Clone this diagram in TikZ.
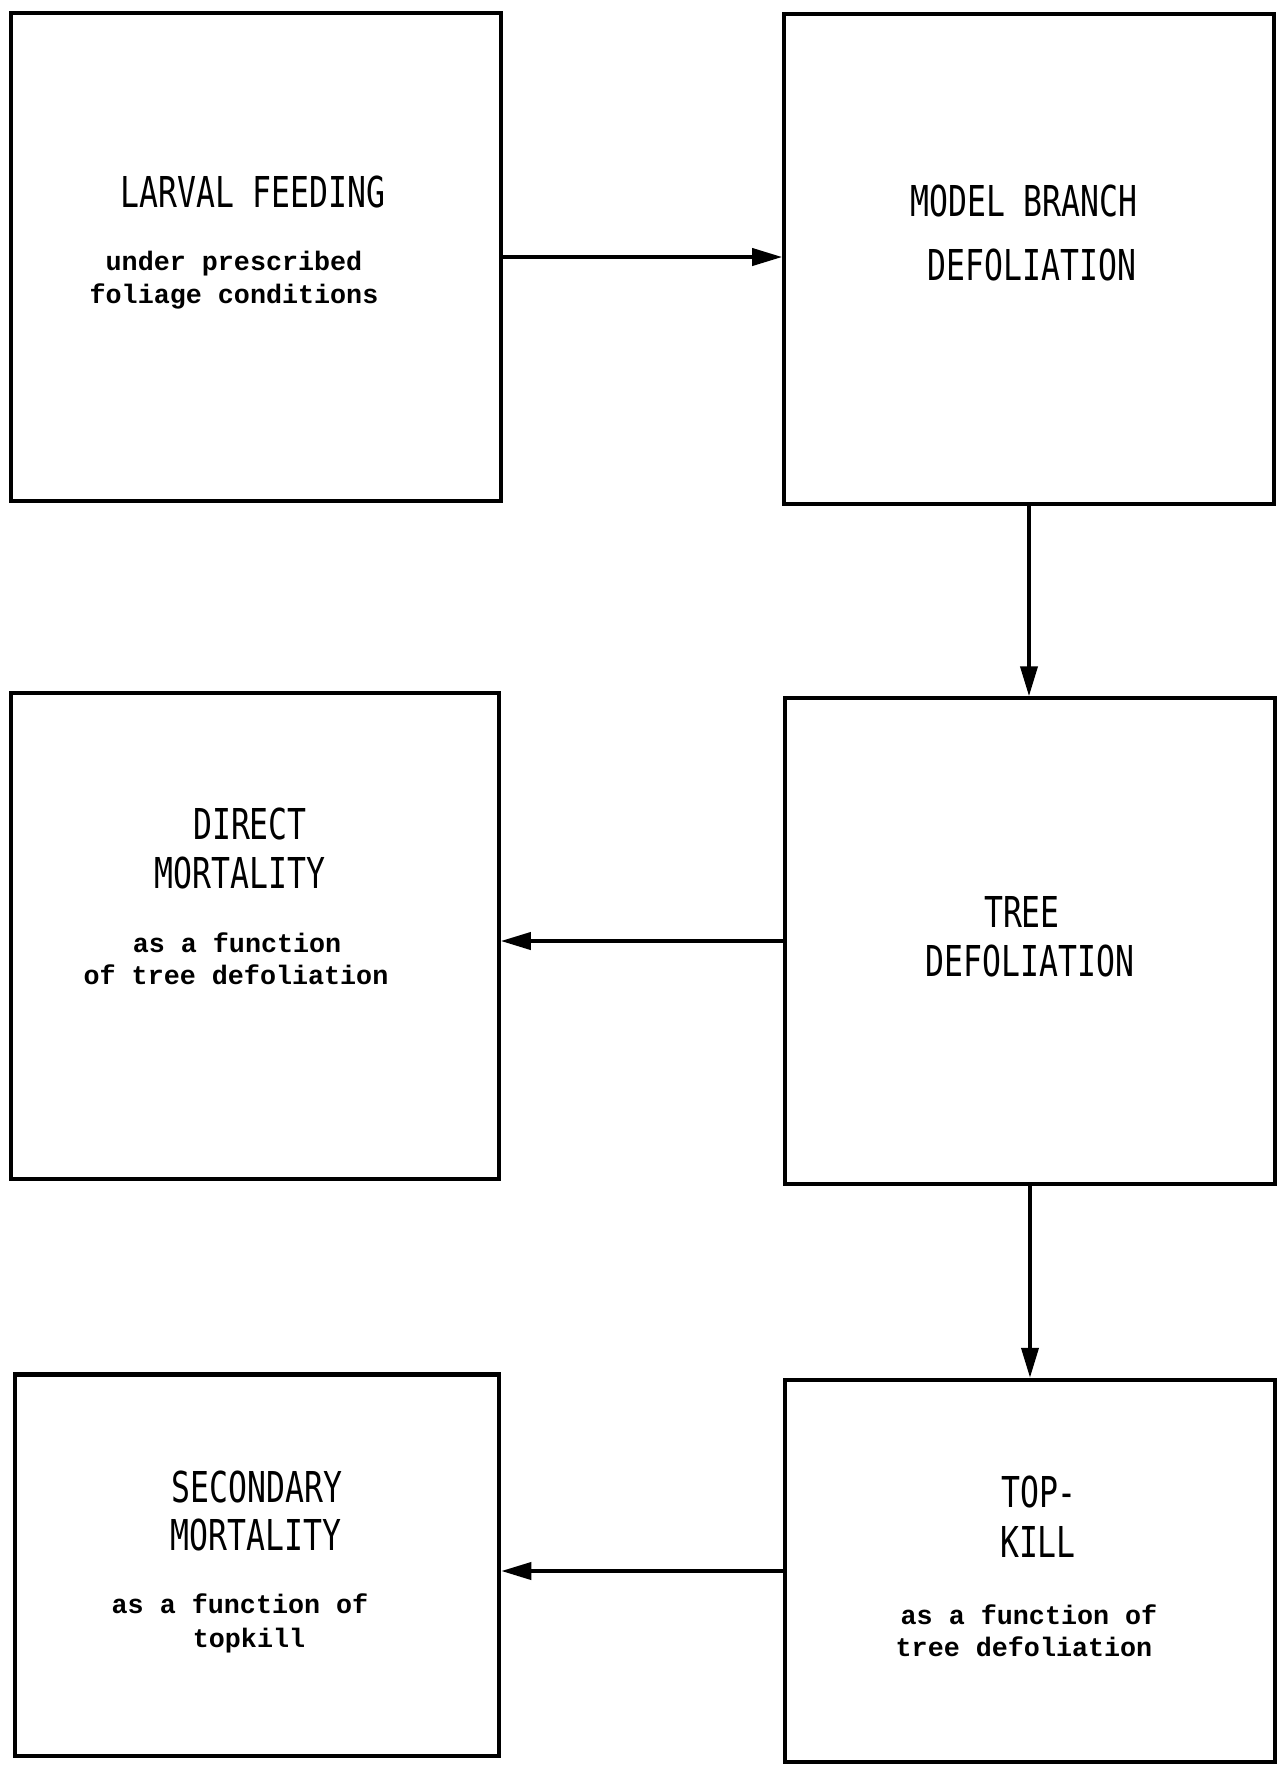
\documentclass[tikz,border=0pt]{standalone}
\usepackage{fontspec}
\newfontfamily\capsfont[FakeStretch=0.74]{DejaVu Sans Mono}
\newfontfamily\typefont{Liberation Mono}
\usetikzlibrary{arrows.meta}

\begin{document}
\begin{tikzpicture}[x=0.01cm, y=-0.01cm,
  stage/.style={draw, line width=1.2pt, inner sep=0pt},
  flow/.style={line width=1.1pt, -{Triangle[length=0.3cm, width=0.17cm]}},
  head/.style={anchor=base, inner sep=0pt, font=\capsfont\fontsize{12.1}{14}\selectfont},
  note/.style={anchor=base, inner sep=0pt, font=\typefont\bfseries\fontsize{7.6}{9}\selectfont}]
\useasboundingbox (0,0) rectangle (1278,1765);
% boxes
\node[stage, minimum width=4.89cm, minimum height=4.88cm] (larval) at (256,257) {};
\node[stage, minimum width=4.89cm, minimum height=4.89cm] (model) at (1029,259) {};
\node[stage, minimum width=4.87cm, minimum height=4.85cm] (direct) at (255,936) {};
\node[stage, minimum width=4.89cm, minimum height=4.85cm] (tree) at (1030,941) {};
\node[stage, minimum width=4.84cm, minimum height=3.81cm] (second) at (257,1565) {};
\node[stage, minimum width=4.89cm, minimum height=3.82cm] (topkill) at (1030,1571) {};
% texts
\node[head] (larvalT1) at (253,207) {LARVAL FEEDING};
\node[note] (larvalT2) at (234,270) {under prescribed};
\node[note] (larvalT3) at (234,303) {foliage conditions};
\node[head] (modelT1) at (1024,216) {MODEL BRANCH};
\node[head] (modelT2) at (1032,280) {DEFOLIATION};
\node[head] (directT1) at (250,839) {DIRECT};
\node[head] (directT2) at (240,888) {MORTALITY};
\node[note] (directT3) at (237,952) {as a function};
\node[note] (directT4) at (236,984) {of tree defoliation};
\node[head] (treeT1) at (1022,927) {TREE};
\node[head] (treeT2) at (1030,976) {DEFOLIATION};
\node[head] (secondT1) at (257,1502) {SECONDARY};
\node[head] (secondT2) at (256,1550) {MORTALITY};
\node[note] (secondT3) at (240,1613) {as a function of};
\node[note] (secondT4) at (249,1647) {topkill};
\node[head] (topkillT1) at (1039,1507) {TOP-};
\node[head] (topkillT2) at (1038,1557) {KILL};
\node[note] (topkillT3) at (1029,1624) {as a function of};
\node[note] (topkillT4) at (1024,1656) {tree defoliation};
% arrows
\draw[flow] (larval.east) -- (larval.east -| model.west);
\draw[flow] (model.south) -- (model.south |- tree.north);
\draw[flow] (tree.west) -- (tree.west -| direct.east);
\draw[flow] (tree.south) -- (tree.south |- topkill.north);
\draw[flow] (topkill.west) -- (topkill.west -| second.east);
\end{tikzpicture}
\end{document}
